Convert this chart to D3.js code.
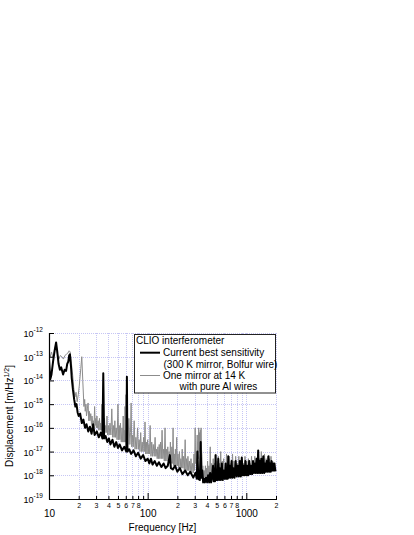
<!DOCTYPE html>
<html><head><meta charset="utf-8">
<script src="https://cdn.jsdelivr.net/npm/d3@7/dist/d3.min.js"></script>
<style>
body{margin:0;background:#fff}
svg{display:block}
text{font-family:"Liberation Sans",Arial,Helvetica,sans-serif;fill:#000}
</style>
</head><body>
<svg id="c" width="414" height="535"></svg>
<script>
// ---- data (log10 of displacement [m/Hz^1/2]) ----
const blackFreq = [10,10.3,10.6,11.0,11.4,11.8,12.1,12.5,12.9,13.3,13.9,14.4,14.9,15.3,15.7,16.0,16.3,16.7,17.0,17.5,18.0,18.5,19.0,19.5,20.0,20.7,21.5,22.3,23.2,24.0,25,26,27,28,29,30.5,32,33.5,34.8,35.5,36.2,37.5,39,40.5,42,44,46,48,50,52,55,58,60.8,61.6,62.4,65,68,72,76,80,85,90,95,100,104,108,112,118,124,130,138,145,152,160,168,172,180,190,200,212,225,240,255,270,290,305,315,320,326,338,345,350,358,
  365,372,380,390,400,410,420,430,440,450,460,467,475,482,488,494,500,510,520,530,540,552,565,577,590,605,620,630,640,648,656,668,680,695,710,725,740,760,780,800,820,840,860,880,900,920,940,960,980,1000,1020,1045,1070,1095,1120,1145,1170,1195,1220,1245,1270,1295,1320,1345,1370,1395,1420,1455,1490,1520,1550,1580,1610,1645,1680,1710,1740,1770,1800,1835,1870,1900,1930,1965,2000];
const blackLog = [-13.1,-13.95,-13.75,-13.2,-12.75,-12.4,-12.75,-13.3,-13.55,-13.45,-13.75,-13.55,-13.6,-13.3,-13.2,-12.95,-12.9,-13.4,-13.9,-14.4,-14.8,-15.1,-15.0,-15.35,-15.5,-15.4,-15.8,-15.65,-16.0,-15.85,-16.15,-15.95,-16.25,-15.85,-16.3,-16.15,-16.4,-16.2,-16.45,-13.7,-16.45,-16.35,-16.6,-16.45,-16.7,-16.5,-16.8,-16.6,-16.85,-16.7,-16.95,-16.8,-17.0,-13.85,-17.0,-16.9,-17.1,-16.95,-17.2,-17.05,-17.3,-17.15,-17.4,-17.3,-17.5,-17.3,-17.55,-17.4,-17.6,-17.45,-17.65,-17.5,-17.7,-17.6,-17.15,-17.7,-17.75,-17.6,-17.85,-17.7,-17.95,-17.8,-18.0,-17.85,-18.1,-17.9,-18.15,-17.0,-18.15,-18.2,-16.6,-18.1,-17.8,
  -18.3,-18.15,-18.3,-18.1,-18.3,-18.0,-18.3,-17.9,-18.3,-18.0,-17.6,-18.25,-17.7,-18.25,-17.15,-18.2,-17.8,-18.2,-17.3,-18.2,-17.7,-18.2,-17.5,-18.2,-17.8,-18.15,-17.5,-18.15,-17.7,-18.15,-17.2,-18.1,-17.6,-18.1,-17.4,-18.1,-17.7,-18.1,-17.4,-18.05,-17.6,-18.05,-17.4,-18.05,-17.25,-18.0,-17.6,-18.0,-17.4,-18.0,-17.6,-18.0,-17.4,-17.95,-17.6,-17.95,-17.4,-17.9,-17.5,-17.9,-17.3,-17.9,-16.95,-17.9,-17.4,-17.9,-17.3,-17.9,-17.2,-17.9,-17.5,-17.85,-17.4,-17.85,-17.2,-17.85,-17.5,-17.85,-17.4,-17.8,-17.5,-17.8,-17.5,-17.8,-17.75];

const greyFreq = [10,10.3,10.6,11.0,11.4,11.8,12.2,12.6,13.0,13.5,14.0,14.5,15.0,15.5,16.0,16.4,16.9,17.4,17.8,18.3,18.8,19.3,19.8,20.3,21.0,21.5,22.0,22.6,23.0,23.3,23.7,24.0,24.5,24.9,25.3,25.6,26.0,26.5,27.0,27.3,27.8,28.2,28.6,29.0,29.4,29.8,30.2,30.6,31.0,31.5,32.0,32.5,33.0,33.4,33.9,34.3,34.8,35.2,35.8,36.5,37.0,37.5,38.1,38.7,39.3,40,40.7,41.5,42.4,43.3,44.2,45,45.7,46.5,47.2,48,49,50,50.8,51.5,52.3,53,54,55,55.8,56.5,57.3,58,58.6,59,59.6,60.3,61,62,63,64.5,66,67,68,69,70,71.5,73,74.5,76,77.5,79,80.5,82,83.5,85,86.5,88,89.5,91,92.5,94,95.5,97,98.5,100,101.5,103,104.5,106,108,110,112,114,116.5,119,121,123,125,127,129,131,133,135,137.5,140,142.5,145,147.5,150,152.5,155,157.5,160,162.5,165,167.5,170,173,176,178.5,181,183.5,186,188.5,191,194,197,200,203,206.5,210,213.5,217,220.5,224,227.5,231,235.5,240,244,248,252,256,260.5,265,270,275,280,285,290,295,299,303,306.5,310,314,318,320.5,323,326,329,332.5,336,339,342,345,348,351.5,355,358.5,362,368,375,380,385,390,395,400,405,411,418,424,431,438,445,453,462,468,475,482,490,497,505,512,520,527,535,542,550,560,570,580,590,600,610,620,630,640,650,662,675,687,700,712,725,737,750,765,780,795,810,825,840,855,870,885,900,918,935,952,970,990,1010,1030,1050,1070,1090,1110,1130,1152,1175,1197,1220,1245,1270,1295,1320,1345,1370,1395,1420,1448,1475,1502,1530,1560,1590,1620,1650,1680,1710,1745,1780,1815,1850,1885,1920,1960,2000];
const greyLog = [-12.85,-13.0,-12.8,-13.05,-12.7,-12.45,-12.9,-13.1,-12.95,-13.0,-13.1,-12.95,-12.9,-12.85,-12.75,-12.8,-13.3,-13.8,-14.3,-14.7,-14.5,-14.9,-14.6,-14.2,-13.5,-13.0,-14.0,-15.1,-14.8,-15.3,-15.0,-15.5,-15.2,-14.95,-15.7,-15.3,-15.7,-15.4,-15.9,-15.5,-15.9,-15.7,-16.0,-15.1,-15.9,-15.6,-16.0,-15.5,-16.0,-15.7,-16.1,-15.6,-16.1,-15.8,-16.1,-15.0,-16.1,-15.7,-16.2,-15.6,-16.2,-15.9,-16.2,-15.5,-16.3,-15.9,-16.3,-15.8,-16.3,-15.2,-16.4,-15.9,-16.4,-15.7,-16.4,-16.0,-16.5,-15.0,-16.5,-15.9,-16.5,-15.8,-16.6,-16.0,-16.6,-15.5,-16.6,-16.1,-16.6,-15.1,-16.6,-14.6,-16.7,-16.1,-16.7,-15.6,-16.7,-16.2,-14.95,-16.8,-16.3,-16.8,-15.7,-16.9,-16.4,-16.9,-16.0,-16.9,-16.5,-17.0,-16.2,-17.0,-16.6,-17.0,-16.4,-17.0,-15.75,-17.1,-16.6,-17.1,-16.5,-17.1,-16.7,-17.1,-15.9,-17.2,-16.6,-17.2,-16.7,-17.2,-16.4,-17.2,-16.9,-17.3,-16.8,-17.3,-16.7,-17.3,-16.6,-17.3,-16.1,-17.3,-16.9,-17.4,-16.0,-17.4,-16.9,-17.4,-16.8,-17.5,-17.0,-17.5,-16.6,-17.5,-16.8,-17.5,-16.0,-17.6,-17.1,-17.6,-16.9,-17.6,-16.4,-17.6,-17.1,-17.7,-17.0,-17.7,-17.3,-17.7,-16.9,-17.7,-17.2,-17.8,-16.5,-17.8,-17.3,-17.8,-17.2,-17.8,-17.4,-17.9,-17.3,-17.9,-17.5,-17.9,-17.1,-17.8,-16.0,-17.5,-17.0,-17.6,-16.3,-17.2,-16.6,-17.3,-16.0,-17.0,-16.2,-16.9,-16.1,-16.6,-16.0,-16.9,-17.2,-17.9,-17.6,-18.1,-17.8,-18.1,-17.6,-18.2,-17.7,-18.2,-17.4,-18.2,-17.6,-18.2,-16.8,-18.2,-17.5,-18.2,-17.3,-18.1,-17.5,-18.1,-17.1,-18.1,-17.4,-18.1,-17.2,-18.1,-17.5,-18.1,-17.0,-18.0,-17.4,-18.0,-17.3,-18.0,-17.5,-18.0,-17.1,-18.0,-17.4,-18.0,-17.2,-17.9,-17.5,-17.9,-17.1,-17.9,-17.4,-17.9,-17.2,-17.9,-17.5,-17.9,-17.2,-17.9,-17.4,-17.9,-17.3,-17.9,-17.5,-17.9,-17.2,-17.9,-17.4,-17.9,-17.3,-17.9,-17.5,-17.9,-17.2,-17.8,-17.4,-17.8,-17.2,-17.8,-17.3,-17.8,-17.1,-17.8,-17.3,-17.8,-17.0,-17.8,-17.2,-17.8,-17.1,-17.8,-17.3,-17.8,-17.2,-17.8,-17.3,-17.8,-17.2,-17.8,-17.4,-17.8,-17.5,-17.8,-17.7];

const yExponents = ["-19","-18","-17","-16","-15","-14","-13","-12"];
const yDecades = [1e-19,1e-18,1e-17,1e-16,1e-15,1e-14,1e-13,1e-12];
const xMajorTicks = [10,100,1000];
const xMajorLabels = ["10","100","1000"];
const xMinorTicks = [20,30,40,50,60,70,80,90,200,300,400,500,600,700,800,900,2000];
const xMinorLabels = ["2","3","4","5","6","7","8","","2","3","4","5","6","7","8","","2"];
const legendTitle = "CLIO interferometer";
const seriesNames = [["Current best sensitivity","(300 K mirror, Bolfur wire)"],["One mirror at 14 K","with pure Al wires"]];

// ---- layout ----
const svg = d3.select("#c");
const L = 49, R = 276, T = 333, B = 499;
const x = d3.scaleLog().domain([10,2000]).range([L,R]);
const y = d3.scaleLog().domain([1e-19,1e-12]).range([B,T]);

svg.append("defs").append("clipPath").attr("id","clip")
  .append("rect").attr("x",L).attr("y",T-1).attr("width",R-L+2).attr("height",B-T+1);

// grid
const gridG = svg.append("g").attr("stroke","#c6c6f4").attr("stroke-width",1).attr("stroke-dasharray","1,1");
xMinorTicks.concat([100,1000]).forEach(f=>{
  gridG.append("line").attr("x1",Math.round(x(f))+0.5).attr("x2",Math.round(x(f))+0.5).attr("y1",T).attr("y2",B);
});
yDecades.forEach(v=>{
  gridG.append("line").attr("x1",L).attr("x2",R+1).attr("y1",Math.round(y(v))+0.5).attr("y2",Math.round(y(v))+0.5);
});

// series
const line = d3.line().x(d=>x(d[0])).y(d=>y(Math.pow(10,d[1])));
const grey = greyFreq.map((f,i)=>[f,greyLog[i]]);
const black = blackFreq.map((f,i)=>[f,blackLog[i]]);
const plotG = svg.append("g").attr("clip-path","url(#clip)");
plotG.append("path").datum(grey).attr("d",line).attr("fill","none")
  .attr("stroke","#8c8c8c").attr("stroke-width",1).attr("stroke-linejoin","round");
plotG.append("path").datum(black).attr("d",line).attr("fill","none")
  .attr("stroke","#000").attr("stroke-width",2).attr("stroke-linejoin","round");

// axes
const xMinorAxis = d3.axisBottom(x).tickValues(xMinorTicks)
  .tickFormat((d,i)=>xMinorLabels[i]).tickSizeInner(-3).tickSizeOuter(0).tickPadding(4);
const gxm = svg.append("g").attr("transform",`translate(0,${B})`).call(xMinorAxis);
gxm.selectAll("text").attr("font-size",7).style("font-family","'Liberation Sans',Arial,sans-serif");
gxm.select(".domain").remove();

const xMajorAxis = d3.axisBottom(x).tickValues(xMajorTicks)
  .tickFormat((d,i)=>xMajorLabels[i]).tickSizeInner(-6).tickSizeOuter(0).tickPadding(11);
const gxM = svg.append("g").attr("transform",`translate(0,${B})`).call(xMajorAxis);
gxM.selectAll("text").attr("font-size",10).style("font-family","'Liberation Sans',Arial,sans-serif");
gxM.select(".domain").remove();

const yAxis = d3.axisLeft(y).tickValues(yDecades).tickFormat("").tickSizeInner(-5).tickSizeOuter(0);
const gy = svg.append("g").attr("transform",`translate(${L},0)`).call(yAxis);
gy.select(".domain").remove();
gy.selectAll(".tick").each(function(d,i){
  const t = d3.select(this).append("text").attr("x",-6).attr("y",3.5)
    .attr("text-anchor","end").attr("font-size",9).attr("fill","#000");
  t.append("tspan").text("10");
  t.append("tspan").attr("dy",-5).attr("font-size",6.5).text(yExponents[i]);
});

// axis lines (left & bottom)
svg.append("line").attr("x1",L+0.5).attr("x2",L+0.5).attr("y1",T).attr("y2",B+0.5).attr("stroke","#000").attr("stroke-width",1.2);
svg.append("line").attr("x1",L).attr("x2",R+1).attr("y1",B+0.5).attr("y2",B+0.5).attr("stroke","#000").attr("stroke-width",1.2);

// axis titles
svg.append("text").attr("x",(L+R)/2).attr("y",531).attr("text-anchor","middle").attr("font-size",10).text("Frequency [Hz]");
const yl = svg.append("text").attr("transform",`translate(13,${(T+B)/2}) rotate(-90)`).attr("text-anchor","middle").attr("font-size",10);
yl.append("tspan").text("Displacement [m/Hz");
yl.append("tspan").attr("dy",-4).attr("font-size",7).text("1/2");
yl.append("tspan").attr("dy",4).text("]");

// legend
const lg = svg.append("g");
lg.append("rect").attr("x",134.5).attr("y",334.5).attr("width",141).attr("height",58.5)
  .attr("fill","#fff").attr("stroke","#222").attr("stroke-width",1);
lg.append("text").attr("x",136).attr("y",343.5).attr("font-size",10).text(legendTitle);
lg.append("line").attr("x1",140).attr("x2",160).attr("y1",352.7).attr("y2",352.7).attr("stroke","#000").attr("stroke-width",2);
lg.append("text").attr("x",163).attr("y",356).attr("font-size",10).text(seriesNames[0][0]);
lg.append("text").attr("x",163.5).attr("y",367.5).attr("font-size",10).text(seriesNames[0][1]);
lg.append("line").attr("x1",140).attr("x2",160).attr("y1",375.5).attr("y2",375.5).attr("stroke","#8c8c8c").attr("stroke-width",1);
lg.append("text").attr("x",163).attr("y",379).attr("font-size",10).text(seriesNames[1][0]);
lg.append("text").attr("x",179.5).attr("y",390).attr("font-size",10).text(seriesNames[1][1]);
</script>
</body></html>
